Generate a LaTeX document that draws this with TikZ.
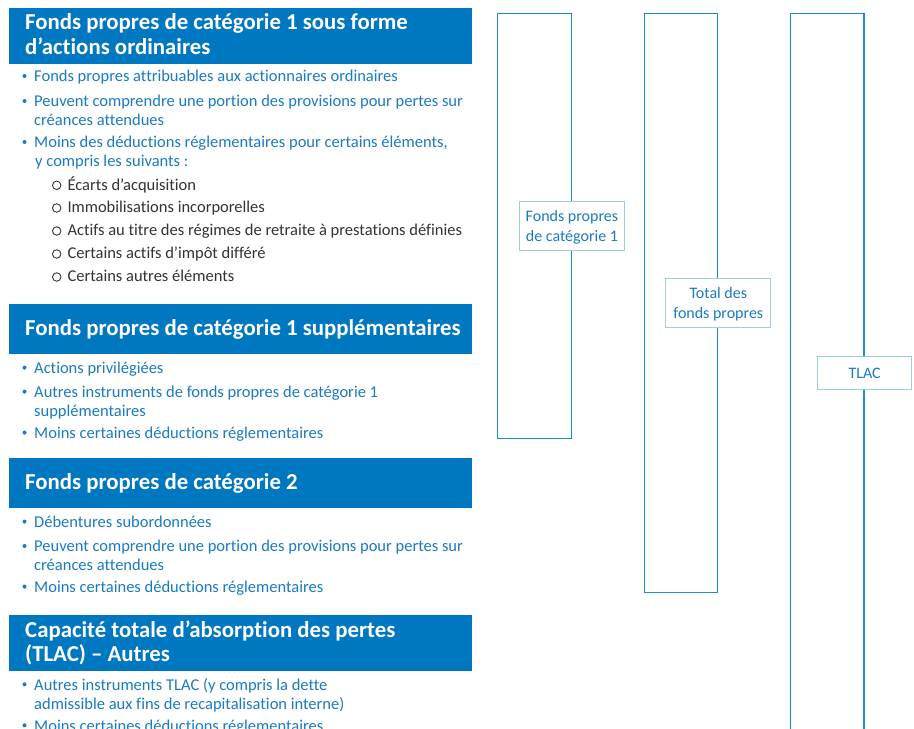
\documentclass[tikz,border=0pt]{standalone}
\usepackage{fontspec}
\setmainfont{Carlito}[Ligatures=NoCommon]
\definecolor{hdr}{HTML}{0077C1}
\definecolor{txtblue}{HTML}{1A7BC2}
\definecolor{subtxt}{HTML}{333333}
\definecolor{colline}{HTML}{1F8AD1}
\definecolor{labline}{HTML}{9FCBEA}
\tikzset{
  hdrbox/.style={fill=hdr, draw=none, anchor=north west, inner sep=0pt, minimum width=463pt},
  hdrtext/.style={anchor=base west, inner sep=0pt, text=white, font=\fontsize{22.8}{26}\selectfont\bfseries},
  body/.style={anchor=base west, inner sep=0pt, text=txtblue, font=\fontsize{16.5}{19}\selectfont},
  subitem/.style={anchor=base west, inner sep=0pt, text=subtxt, font=\fontsize{16.5}{19}\selectfont},
  bul/.style={circle, fill=txtblue, draw=none, minimum size=4pt, inner sep=0pt},
  subbul/.style={circle, draw=subtxt, line width=0.9pt, fill=none, minimum size=8.5pt, inner sep=0pt},
  colbox/.style={draw=colline, line width=1.3pt, fill=none, inner sep=0pt},
  labbox/.style={draw=labline, line width=1pt, fill=white, inner sep=0pt},
  labtext/.style={anchor=base, inner sep=0pt, text=txtblue, font=\fontsize{16}{19}\selectfont},
}
\begin{document}
\begin{tikzpicture}[x=1pt,y=-1pt]
\useasboundingbox (0,0) rectangle (914,729);
\clip (0,0) rectangle (914,729);
\fill[white] (0,0) rectangle (914,729);

% ---------- Section 1 ----------
\node[hdrbox, minimum height=55.7pt] (h1) at (9,8) {};
\node[hdrtext] (h1a) at (25,29.3) {Fonds propres de catégorie 1 sous forme};
\node[hdrtext] (h1b) at (25,54.3) {d’actions ordinaires};

\node[bul] (p1) at (24.5,76) {};
\node[body] (t1) at (34,81.7) {Fonds propres attribuables aux actionnaires ordinaires};
\node[bul] (p2) at (24.5,101) {};
\node[body] (t2a) at (34,106.7) {Peuvent comprendre une portion des provisions pour pertes sur};
\node[body] (t2b) at (34,125.7) {créances attendues};
\node[bul] (p3) at (24.5,142) {};
\node[body] (t3a) at (34,147.7) {Moins des déductions réglementaires pour certains éléments,};
\node[body] (t3b) at (35,166.7) {y compris les suivants :};

\node[subbul] (s1c) at (56.7,185.3) {};
\node[subitem] (s1) at (67.3,190) {Écarts d’acquisition};
\node[subbul] (s2c) at (56.7,208) {};
\node[subitem] (s2) at (67.3,212.7) {Immobilisations incorporelles};
\node[subbul] (s3c) at (56.7,231) {};
\node[subitem] (s3) at (67.3,235.7) {Actifs au titre des régimes de retraite à prestations définies};
\node[subbul] (s4c) at (56.7,254) {};
\node[subitem] (s4) at (67.3,258.7) {Certains actifs d’impôt différé};
\node[subbul] (s5c) at (56.7,277) {};
\node[subitem] (s5) at (67.3,281.7) {Certains autres éléments};

% ---------- Section 2 ----------
\node[hdrbox, minimum height=49.7pt] (h2) at (9,304) {};
\node[hdrtext] (h2a) at (25,335) {Fonds propres de catégorie 1 supplémentaires};
\node[bul] (q1) at (24.5,367.6) {};
\node[body] (u1) at (34,373.3) {Actions privilégiées};
\node[bul] (q2) at (24.5,391.6) {};
\node[body] (u2a) at (34,397.3) {Autres instruments de fonds propres de catégorie 1};
\node[body] (u2b) at (34,416) {supplémentaires};
\node[bul] (q3) at (24.5,432.6) {};
\node[body] (u3) at (34,438.3) {Moins certaines déductions réglementaires};

% ---------- Section 3 ----------
\node[hdrbox, minimum height=49.7pt] (h3) at (9,458) {};
\node[hdrtext] (h3a) at (25,489) {Fonds propres de catégorie 2};
\node[bul] (r1) at (24.5,521.6) {};
\node[body] (v1) at (34,527.3) {Débentures subordonnées};
\node[bul] (r2) at (24.5,546) {};
\node[body] (v2a) at (34,551.7) {Peuvent comprendre une portion des provisions pour pertes sur};
\node[body] (v2b) at (34,570) {créances attendues};
\node[bul] (r3) at (24.5,586.6) {};
\node[body] (v3) at (34,592.3) {Moins certaines déductions réglementaires};

% ---------- Section 4 ----------
\node[hdrbox, minimum height=55.7pt] (h4) at (9,615) {};
\node[hdrtext] (h4a) at (25,637.7) {Capacité totale d’absorption des pertes};
\node[hdrtext] (h4b) at (25,661) {(TLAC) – Autres};
\node[bul] (w1) at (24.5,684.3) {};
\node[body] (x1a) at (34,690) {Autres instruments TLAC (y compris la dette};
\node[body] (x1b) at (34,709) {admissible aux fins de recapitalisation interne)};
\node[bul] (w2) at (24.5,725.3) {};
\node[body] (x2) at (34,731) {Moins certaines déductions réglementaires};

% ---------- Right columns ----------
\node[colbox, minimum width=73.6pt, minimum height=424.6pt] (c1) at (534.5,226) {};
\node[colbox, minimum width=73.4pt, minimum height=578.6pt] (c2) at (681,303) {};
\node[colbox, minimum width=73.3pt, minimum height=786.3pt] (c3) at (827.35,406.85) {};

\node[labbox, minimum width=105pt, minimum height=49pt] (l1) at (c1.east |- 0,225.8) {};
\node[labtext] (l1a) at (l1.center |- 0,221.7) {Fonds propres};
\node[labtext] (l1b) at (l1.center |- 0,241.3) {de catégorie 1};

\node[labbox, minimum width=105pt, minimum height=49pt] (l2) at (c2.east |- 0,302.8) {};
\node[labtext] (l2a) at (l2.center |- 0,298.3) {Total des};
\node[labtext] (l2b) at (l2.center |- 0,318.3) {fonds propres};

\node[labbox, minimum width=94pt, minimum height=32.7pt] (l3) at (c3.east |- 0,372.65) {};
\node[labtext] (l3a) at (l3.center |- 0,378.3) {TLAC};
\end{tikzpicture}
\end{document}
